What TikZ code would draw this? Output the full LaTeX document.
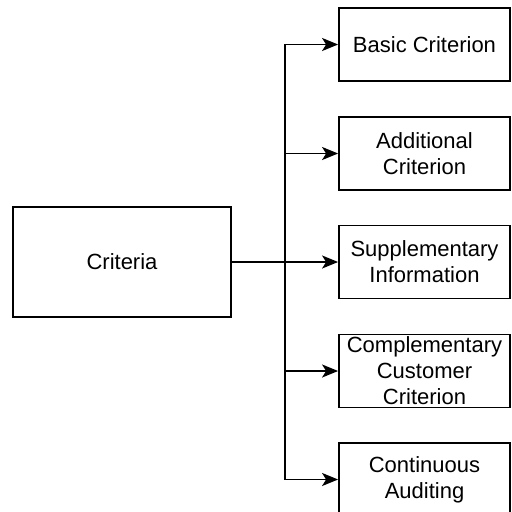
\documentclass[tikz,border=0pt]{standalone}
\usepackage{fontspec}
\setmainfont{Liberation Sans}
\usetikzlibrary{arrows.meta}
\begin{document}
\begin{tikzpicture}[x=1pt,y=-1pt,line join=miter,line width=1.8pt]
	\tikzset{box/.style={draw,align=center,inner sep=0pt,font=\fontsize{22}{26}\selectfont},
		critbox/.style={box,minimum width=218,minimum height=110},
		itembox/.style={box,minimum width=171,minimum height=73},
		branch/.style={-{Stealth[length=16pt,width=13pt,inset=4pt]}}}
	\useasboundingbox (0,0) rectangle (512,512);
	\node[critbox] (crit) at (122,262) {Criteria};
	\coordinate (trunk) at (285,0);
	\node[itembox] (basic) at (424.5,44.5) {Basic Criterion};
	\node[itembox] (addit) at (424.5,153.5) {Additional\\Criterion};
	\node[itembox] (suppl) at (424.5,262) {Supplementary\\Information};
	\node[itembox] (compl) at (424.5,371) {Complementary\\Customer\\Criterion};
	\node[itembox] (contin) at (424.5,479.5) {Continuous\\Auditing};
	\foreach \b in {basic,addit,suppl,compl,contin}
		\draw[branch] (crit.east) -- (crit.east -| trunk) |- (\b.west);
\end{tikzpicture}
\end{document}
